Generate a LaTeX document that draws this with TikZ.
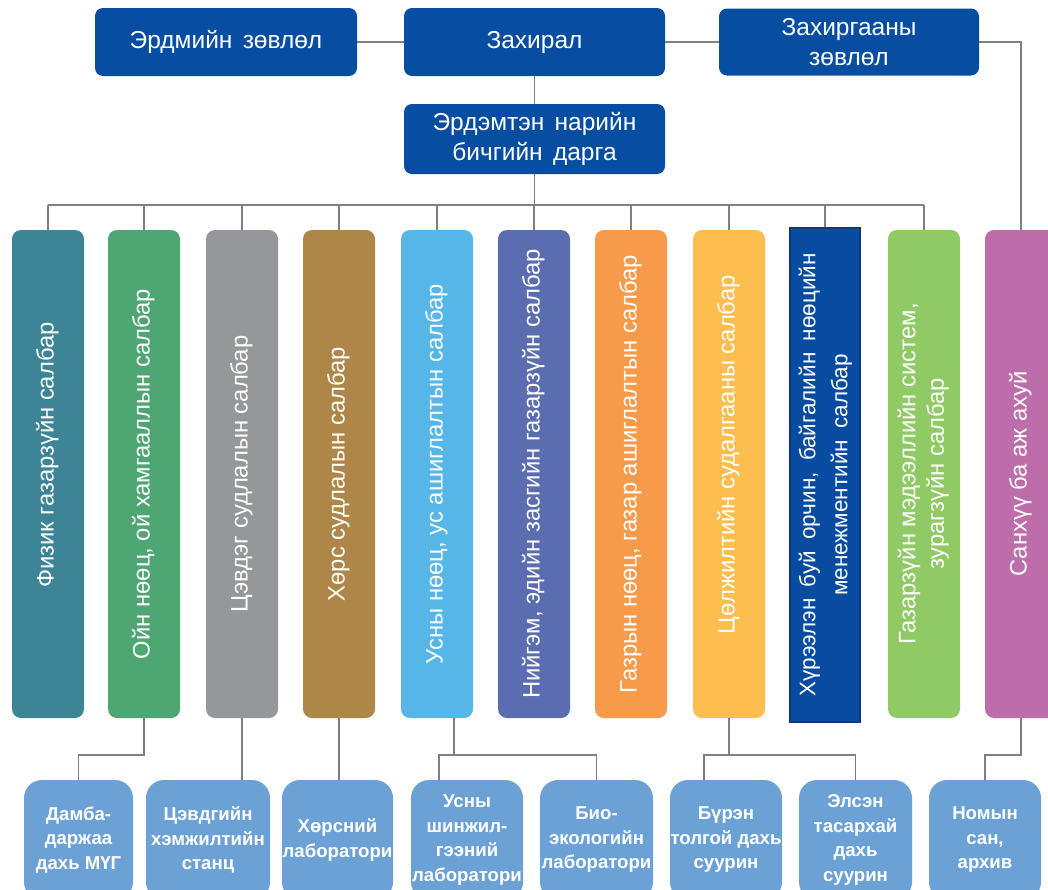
\documentclass[tikz,border=0pt]{standalone}
\usepackage{fontspec}
\setmainfont{Liberation Sans}
\usepackage{graphicx}
\usetikzlibrary{calc}
\definecolor{topblue}{HTML}{074EA2}
\definecolor{linegray}{HTML}{808080}
\definecolor{lblue}{HTML}{6BA1D5}
\definecolor{c1}{HTML}{3D8596}
\definecolor{c2}{HTML}{4EA672}
\definecolor{c3}{HTML}{96979B}
\definecolor{c4}{HTML}{AE8748}
\definecolor{c5}{HTML}{56B6E7}
\definecolor{c6}{HTML}{5B6DB1}
\definecolor{c7}{HTML}{F79A4A}
\definecolor{c8}{HTML}{FDBD4F}
\definecolor{c9}{HTML}{074CA1}
\definecolor{c9b}{HTML}{0B3A7C}
\definecolor{c10}{HTML}{90CA65}
\definecolor{c11}{HTML}{BE6DAB}
\newcommand{\vtext}[1]{\rotatebox{90}{\begin{tabular}{@{}c@{}}#1\end{tabular}}}
\newcommand{\topfont}{\fontsize{24.5}{29.5}\selectfont\spaceskip=0.42em\relax}
\newcommand{\hfont}{\fontsize{22.5}{32}\selectfont\spaceskip=0.5em\relax}
\begin{document}
\begin{tikzpicture}[x=1pt,y=-1pt,
  topbox/.style={fill=topblue, rounded corners=8pt, minimum width=262pt, minimum height=68pt, inner sep=0pt, text=white, align=center, font=\topfont},
  vbox/.style={rounded corners=9pt, minimum width=72pt, minimum height=488pt, inner sep=0pt, text=white, font=\fontsize{23.8}{28.5}\selectfont},
  lbox/.style={fill=lblue, rounded corners=18pt, minimum height=120pt, inner sep=0pt, text=white, align=center, font=\bfseries\fontsize{18.6}{24.5}\selectfont},
  conn/.style={draw=linegray, line width=1.3pt}]
\useasboundingbox (0,0) rectangle (1048,889);
\clip (0,0) rectangle (1048,889);
% top boxes
\node[topbox] (erd) at (226,42) {Эрдмийн зөвлөл};
\node[topbox, minimum width=261pt] (dir) at (534.5,42) {Захирал};
\node[topbox, minimum width=260pt, minimum height=67pt] (adm) at (849,42) {Захиргааны\\зөвлөл};
\node[topbox, minimum width=261pt, minimum height=70pt] (sec) at (534.5,139) {Эрдэмтэн нарийн\\бичгийн дарга};
% vertical boxes
\node[vbox, fill=c1] (v1) at (48,474) {\vtext{\hspace*{38pt}Физик газарзүйн салбар}};
\node[vbox, fill=c2] (v2) at (144,474) {\vtext{Ойн нөөц, ой хамгааллын салбар}};
\node[vbox, fill=c3] (v3) at (242,474) {\vtext{Цэвдэг судлалын салбар}};
\node[vbox, fill=c4] (v4) at (339,474) {\vtext{Хөрс судлалын салбар}};
\node[vbox, fill=c5] (v5) at (437,474) {\vtext{Усны нөөц, ус ашиглалтын салбар}};
\node[vbox, fill=c6] (v6) at (534,474) {\vtext{Нийгэм, эдийн засгийн газарзүйн салбар}};
\node[vbox, fill=c7] (v7) at (631,474) {\vtext{Газрын нөөц, газар ашиглалтын салбар}};
\node[vbox, fill=c8] (v8) at (729,474) {\vtext{\hspace*{38pt}Цөлжилтийн судалгааны салбар}};
\node[vbox, fill=c9, draw=c9b, line width=1.5pt, rounded corners=0pt, minimum width=70pt, minimum height=494pt, font=\hfont] (v9) at (825,475) {\vtext{Хүрээлэн буй орчин, байгалийн нөөцийн\\менежментийн салбар}};
\node[vbox, fill=c10] (v10) at (924,474) {\vtext{Газарзүйн мэдээллийн систем,\\зурагзүйн салбар}};
\node[vbox, fill=c11] (v11) at (1021,474) {\vtext{Санхүү ба аж ахуй}};
% bottom boxes
\node[lbox, minimum width=109pt] (d1) at (78.5,840) {Дамба-\\даржаа\\дахь МҮГ};
\node[lbox, minimum width=124pt] (d2) at (208,840) {Цэвдгийн\\хэмжилтийн\\станц};
\node[lbox, minimum width=111pt] (d3) at (337.5,840) {Хөрсний\\лаборатори};
\node[lbox, minimum width=112pt] (d4) at (467,840) {Усны\\шинжил-\\гээний\\лаборатори};
\node[lbox, minimum width=113pt] (d5) at (596.5,840) {Био-\\экологийн\\лаборатори};
\node[lbox, minimum width=112pt] (d6) at (726,840) {Бүрэн\\толгой дахь\\суурин};
\node[lbox, minimum width=113pt] (d7) at (855.5,840) {Элсэн\\тасархай\\дахь\\суурин};
\node[lbox, minimum width=112pt] (d8) at (985,840) {Номын\\сан,\\архив};
% top connectors
\draw[conn] (erd.east) -- (dir.west);
\draw[conn] (dir.east) -- (adm.west);
\draw[conn] (adm.east) -| (v11.north);
\draw[conn] (dir.south) -- (sec.north);
\coordinate (bus) at (534.5,205);
\draw[conn] (sec.south) -- (bus);
\draw[conn] (v1.north |- bus) -- (v10.north |- bus);
\foreach \n in {v1,v2,v3,v4,v5,v6,v7,v8,v9,v10}
  \draw[conn] (\n.north |- bus) -- (\n.north);
% bottom connectors
\coordinate (lb) at (0,755);
\draw[conn] (v2.south) -- (v2.south |- lb) -| (d1.north);
\draw[conn] (v3.south) -- (v3.south |- d2.north);
\draw[conn] (v4.south) -- (v4.south |- d3.north);
\coordinate (v5o) at ($(v5.south)+(17,0)$);
\draw[conn] (v5o) -- (v5o |- lb);
\draw[conn] ([xshift=-28pt]d4.north) -- ([xshift=-28pt]d4.north |- lb) -- (d5.north |- lb) -- (d5.north);
\draw[conn] (v8.south) -- (v8.south |- lb);
\draw[conn] ([xshift=-22pt]d6.north) -- ([xshift=-22pt]d6.north |- lb) -- (d7.north |- lb) -- (d7.north);
\draw[conn] (v11.south) -- (v11.south |- lb) -| (d8.north);
\end{tikzpicture}
\end{document}
